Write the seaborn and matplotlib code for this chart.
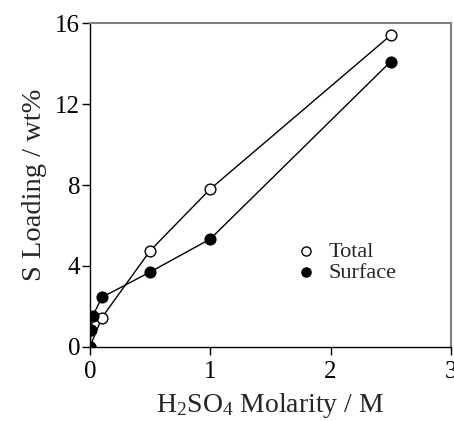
import matplotlib
matplotlib.use("Agg")
import matplotlib.pyplot as plt
import seaborn as sns
import pandas as pd

total_x = [0.0, 0.1, 0.5, 1.0, 2.5]
total_y = [0.0, 1.45, 4.75, 7.8, 15.4]
surface_x = [0.0, 0.01, 0.025, 0.1, 0.5, 1.0, 2.5]
surface_y = [0.0, 0.85, 1.55, 2.45, 3.7, 5.33, 14.1]
x_ticks = [0, 1, 2, 3]
y_ticks = [0, 4, 8, 12, 16]

sns.set_theme(style="white")
plt.rcParams['font.family'] = 'serif'
plt.rcParams['font.serif'] = ['Liberation Serif', 'Nimbus Roman', 'STIXGeneral', 'DejaVu Serif']
plt.rcParams['mathtext.fontset'] = 'custom'
plt.rcParams['mathtext.rm'] = 'Liberation Serif'
plt.rcParams['mathtext.it'] = 'Liberation Serif:italic'

fig = plt.figure(figsize=(4.54, 4.21), dpi=100)
ax = fig.add_axes([0.198, 0.176, 0.795, 0.769])

dt = pd.DataFrame({"x": total_x, "y": total_y})
ds = pd.DataFrame({"x": surface_x, "y": surface_y})

sns.lineplot(data=dt, x="x", y="y", ax=ax, color="black", lw=1.0, sort=False, legend=False, zorder=2)
sns.lineplot(data=ds, x="x", y="y", ax=ax, color="black", lw=1.0, sort=False, legend=False, zorder=2)
sns.scatterplot(data=dt, x="x", y="y", ax=ax, color="white", edgecolor="black", linewidth=1.0, s=60, zorder=3, label="Total")
sns.scatterplot(data=ds, x="x", y="y", ax=ax, color="black", edgecolor="black", linewidth=1.0, s=60, zorder=4, label="Surface")

ax.set_xlim(0, 3)
ax.set_ylim(0, 16)
ax.set_xticks(x_ticks)
ax.set_yticks(y_ticks)
ax.tick_params(axis="both", direction="out", length=6, width=1, colors="black", labelsize=18, left=True, bottom=True)
ax.tick_params(axis="y", pad=1)
ax.tick_params(axis="x", pad=4)
for s in ["left", "bottom"]:
    ax.spines[s].set_color("black")
    ax.spines[s].set_linewidth(1.0)
for s in ["top", "right"]:
    ax.spines[s].set_color("#808080")
    ax.spines[s].set_linewidth(1.5)
ax.set_xlabel(r"H$_2$SO$_4$ Molarity / M", fontsize=20, labelpad=6)
ax.set_ylabel("S Loading / wt%", fontsize=20.5, labelpad=6)
ax.legend(loc="center left", bbox_to_anchor=(0.513, 0.262), frameon=False, fontsize=16,
          handletextpad=0.0, labelspacing=0.05, markerscale=0.85, borderaxespad=0)

fig.savefig("out.png", dpi=100)
